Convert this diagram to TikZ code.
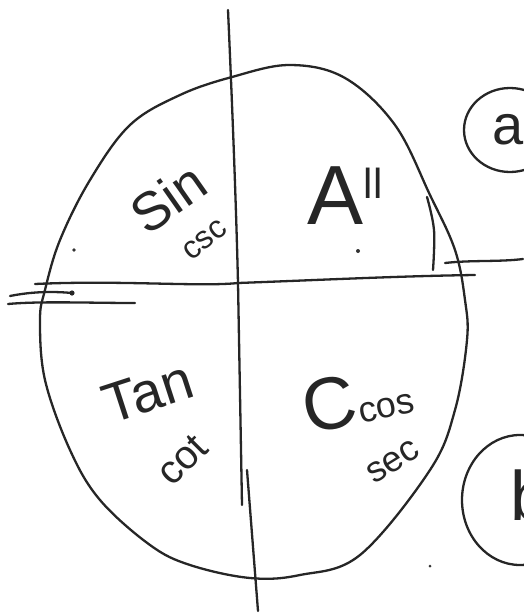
\documentclass[tikz,border=0pt]{standalone}
\usepackage{fontspec}
\setmainfont{Liberation Sans}
\begin{document}
\begin{tikzpicture}[x=1pt,y=-1pt,
  ink/.style={line width=2.3pt,black!85,line cap=round,line join=round},
  hand/.style={inner sep=0pt,text=black!85}]
\useasboundingbox (0,0) rectangle (523,616);
% quadrant circle
\draw[ink] plot[smooth cycle,tension=0.6] coordinates{(232,77) (290,65) (345,78) (395,125) (430,195) (455,250) (465,300) (467,340) (455,410) (430,470) (360,555) (300,575) (250,578) (190,565) (150,545) (100,500) (70,450) (45,380) (40,320) (45,290) (60,240) (90,180) (130,125) (180,95)};
% inner extra stroke at right
\draw[ink] plot[smooth,tension=0.6] coordinates{(427,197) (434,230) (433,270)};
% axes
\coordinate (vt) at (228,10);
\coordinate (vm) at (238,283);
\coordinate (vb) at (242,505);
\coordinate (vb2) at (247,470);
\coordinate (vb3) at (258,611);
\draw[ink] (vt) .. controls (232,100) and (236,200) .. (vm) -- (vb);
\draw[ink] (vb2) -- (vb3);
\coordinate (hl) at (35,284);
\coordinate (hr) at (475,275);
\draw[ink] (hl) .. controls (120,280) and (200,287) .. (vm) .. controls (320,280) and (400,276) .. (hr);
\coordinate (hr1) at (445,263);
\coordinate (hr2) at (523,259);
\draw[ink] (hr1) .. controls (470,260) and (500,262) .. (hr2);
\coordinate (hx1) at (10,296);
\coordinate (hx2) at (72,293);
\coordinate (hx3) at (8,304);
\coordinate (hx4) at (135,303);
\draw[ink] (hx1) .. controls (30,292) and (50,291) .. (hx2);
\draw[ink] (hx3) .. controls (40,301) and (90,303) .. (hx4);
\fill[black!85] (hx2) circle (2.6pt);
% stray dots
\fill[black!80] (74,250) circle (1.8pt) (358,251) circle (2pt) (430,566) circle (1.5pt);
% labels
\node[hand,rotate=35,font=\fontsize{54}{54}\selectfont] (sin) at (168,198) {Sin};
\node[hand,rotate=38,font=\fontsize{32}{32}\selectfont] (csc) at (205,240) {csc};
\node[hand,font=\fontsize{84}{84}\selectfont] (all) at (345,196) {A\raisebox{26pt}{\fontsize{42}{42}\selectfont ll}};
\node[hand,rotate=18,font=\fontsize{56}{56}\selectfont] (tan) at (148,392) {Tan};
\node[hand,rotate=45,font=\fontsize{40}{40}\selectfont] (cot) at (182,460) {cot};
\node[hand,rotate=12,font=\fontsize{74}{74}\selectfont] (ccos) at (357,398) {C\fontsize{36}{36}\selectfont cos};
\node[hand,rotate=32,font=\fontsize{36}{36}\selectfont] (sec) at (393,462) {sec};
% circled letters at right
\draw[ink] (510,130) ellipse (46 and 42);
\node[hand,font=\fontsize{56}{56}\selectfont] (a) at (508,130) {a};
\draw[ink] (520,500) ellipse (58 and 65);
\node[hand,font=\fontsize{70}{70}\selectfont] (b) at (530,495) {b};
\end{tikzpicture}
\end{document}
